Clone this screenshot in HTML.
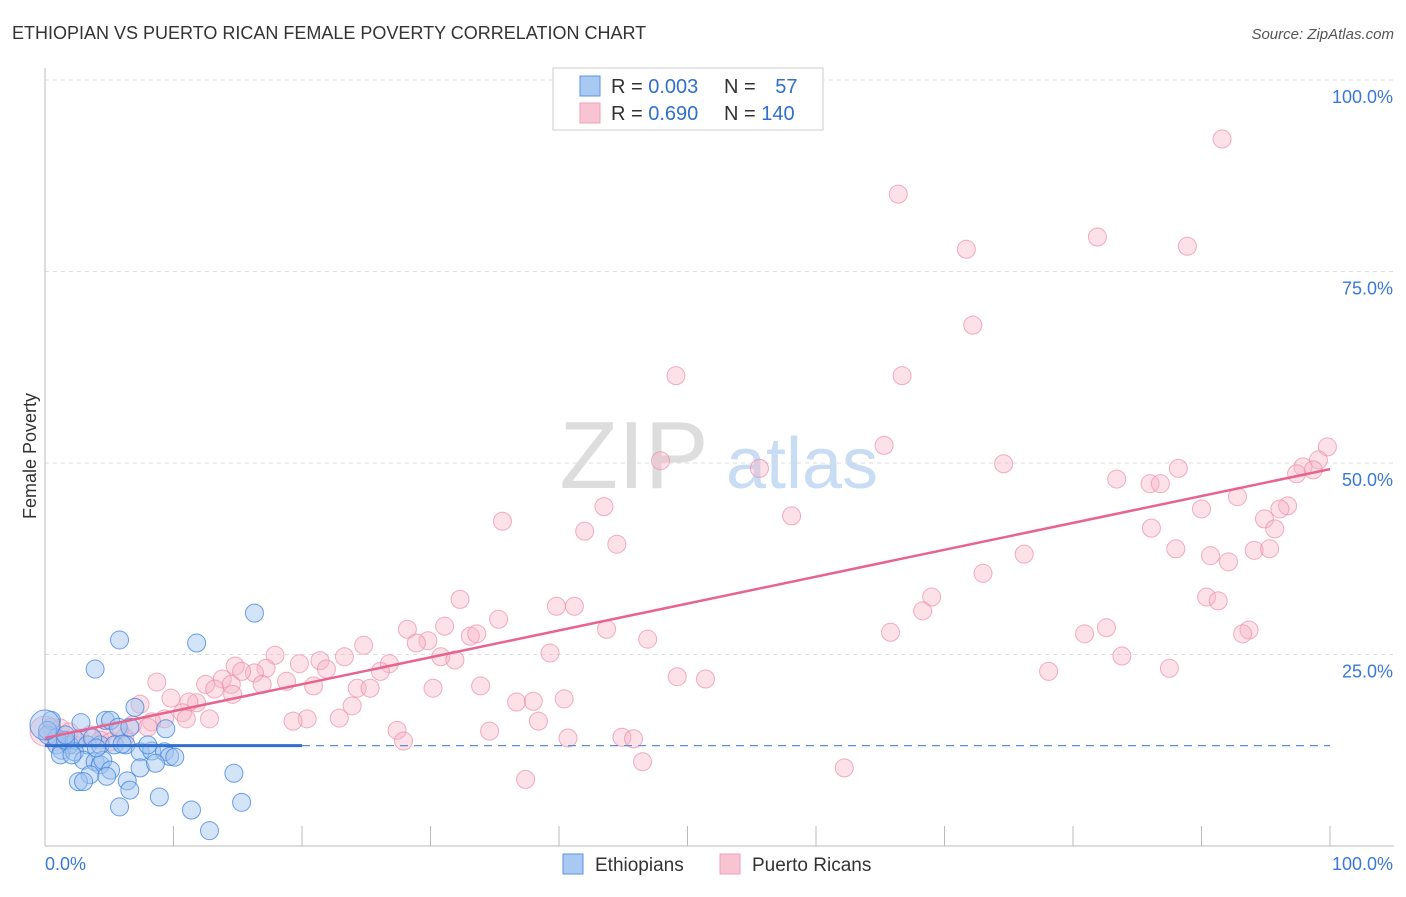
<!DOCTYPE html>
<html><head><meta charset="utf-8"><style>
body{margin:0;background:#fff;font-family:"Liberation Sans",sans-serif;}
svg text{font-family:"Liberation Sans",sans-serif;}
</style></head><body>
<svg id="chart" width="1406" height="892">
<text x="12" y="39" font-size="18" fill="#333">ETHIOPIAN VS PUERTO RICAN FEMALE POVERTY CORRELATION CHART</text>
<text x="1394" y="39" font-size="15" fill="#555" text-anchor="end" font-style="italic">Source: ZipAtlas.com</text>
<text x="36" y="456" font-size="18" fill="#333" text-anchor="middle" transform="rotate(-90 36 456)">Female Poverty</text>
<g>
<text x="634" y="488" font-size="96" fill="#ddd" text-anchor="middle" font-family="Liberation Serif">ZIP</text>
<text x="802" y="488" font-size="72" fill="#c8dcf4" text-anchor="middle">atlas</text>
</g>
<g id="grid"></g>
<g id="axes"></g>
<g id="marks"></g>
<g>
<rect x="553" y="68" width="270" height="62" fill="#fff" stroke="#ccc"/>
<rect x="580" y="76" width="20" height="20" fill="#a9c9f2" stroke="#5a95e0"/>
<rect x="580" y="103" width="20" height="20" fill="#f8c4d4" stroke="#f0a0b8"/>
<text x="611" y="93" font-size="20" fill="#333">R = <tspan fill="#2f6fd0">0.003</tspan></text>
<text x="724" y="93" font-size="20" fill="#333">N = <tspan fill="#2f6fd0" dx="14">57</tspan></text>
<text x="611" y="120" font-size="20" fill="#333">R = <tspan fill="#2f6fd0">0.690</tspan></text>
<text x="724" y="120" font-size="20" fill="#333">N = <tspan fill="#2f6fd0">140</tspan></text>
</g>
<g>
<rect x="563" y="854" width="20" height="20" fill="#a9c9f2" stroke="#5a95e0"/>
<text x="595" y="871" font-size="19" fill="#333">Ethiopians</text>
<rect x="720" y="854" width="20" height="20" fill="#f8c4d4" stroke="#f0a0b8"/>
<text x="752" y="871" font-size="19" fill="#333">Puerto Ricans</text>
</g>
</svg>
<script>
const yTicks=[25,50,75,100];
const yTickLabels=["25.0%","50.0%","75.0%","100.0%"];
const xTickLabels=["0.0%","100.0%"];
const blueX=[16.3,5.8,11.8,3.9,7.0,2.8,4.7,5.1,5.7,6.6,9.4,0.5,0.2,0.9,1.3,1.9,2.4,3.3,4.3,5.4,6.3,7.4,8.3,9.3,9.7,1.2,2.3,3.0,3.9,4.3,4.5,5.1,7.4,8.6,3.5,2.6,3.0,4.8,6.4,5.8,8.9,6.6,11.4,12.8,14.7,15.3,0.9,1.6,0.2,3.7,4.0,6.0,10.1,8.0,1.6,2.1,0.0];
const blueY=[30.4,26.9,26.5,23.1,18.1,16.1,16.4,16.4,15.5,15.5,15.3,16.4,14.5,13.2,12.5,13.2,13.8,13.2,13.2,13.2,13.2,12.3,12.4,12.3,11.7,11.9,12.3,11.2,11.0,10.6,11.2,9.9,10.2,10.8,9.3,8.4,8.4,9.1,8.5,5.1,6.4,7.3,4.7,2.0,9.5,5.7,14.1,13.8,15.1,14.1,12.8,13.3,11.6,13.2,14.5,11.9,15.8];
const pinkX=[91.6,66.4,81.9,71.7,88.9,72.2,49.1,66.7,65.3,99.8,47.9,55.6,74.6,99.1,97.9,98.7,97.4,83.4,88.2,86.0,86.8,92.8,43.5,35.6,58.1,90.0,96.7,96.1,94.9,95.7,86.1,42.0,44.5,88.0,94.1,95.3,90.7,92.1,76.2,73.0,32.3,69.0,39.8,41.2,90.4,91.3,35.3,68.3,31.1,28.2,43.7,33.1,33.6,29.8,28.9,24.8,65.8,80.9,82.6,93.7,93.2,46.9,39.3,17.9,23.3,21.4,30.8,31.9,14.8,19.8,17.2,26.8,26.1,21.9,16.3,15.3,13.8,12.5,8.7,18.8,20.9,16.9,14.5,13.2,14.6,24.3,25.3,30.2,33.9,78.1,83.8,87.5,49.2,51.4,11.8,9.8,11.2,10.7,7.4,23.9,36.7,38.0,40.4,20.4,19.3,22.9,12.8,11.0,9.3,38.4,8.3,6.8,5.8,4.6,27.4,34.6,40.7,27.9,44.9,45.8,46.5,37.4,62.2,1.2,1.9,0.5,2.7,3.5,4.3,8.0,6.2,1.5,5.1,2.3,0.8,0.0];
const pinkY=[92.3,85.1,79.5,77.9,78.3,68.0,61.4,61.4,52.3,52.1,50.3,49.3,49.9,50.4,49.5,49.1,48.6,47.9,49.3,47.3,47.3,45.6,44.3,42.4,43.1,44.0,44.4,44.0,42.7,41.4,41.5,41.1,39.4,38.8,38.6,38.8,37.9,37.1,38.1,35.6,32.2,32.5,31.3,31.3,32.5,32.0,29.6,30.7,28.7,28.3,28.3,27.4,27.7,26.8,26.5,26.2,27.9,27.7,28.5,28.2,27.7,27.0,25.2,24.9,24.7,24.2,24.7,24.3,23.5,23.8,23.2,23.8,22.8,23.1,22.6,22.8,21.8,21.1,21.4,21.5,20.9,21.1,21.1,20.5,19.8,20.6,20.6,20.6,20.9,22.8,24.8,23.2,22.1,21.8,18.7,19.3,18.8,17.4,18.5,18.3,18.8,18.9,19.2,16.6,16.3,16.7,16.6,16.6,16.6,16.3,16.2,15.8,15.1,14.8,15.1,15.0,14.1,13.7,14.2,14.0,11.0,8.7,10.2,15.4,14.9,15.5,14.1,14.5,13.8,15.5,14.2,13.8,13.6,13.2,13.6,15.0];
const pinkTrend=[14.1,49.2];
const blueTrend=[13.1,13.1];
const NS="http://www.w3.org/2000/svg";
const X=v=>45+v*12.85, Y=v=>846-v*7.66;
function mk(t,a,p){const e=document.createElementNS(NS,t);for(const k in a)e.setAttribute(k,a[k]);p.appendChild(e);return e;}
const grid=document.getElementById('grid'),axes=document.getElementById('axes'),marks=document.getElementById('marks');
yTicks.forEach((t,i)=>{
 const l=mk('line',{x1:45,x2:1394,y1:Y(t),y2:Y(t),stroke:'#ddd','stroke-dasharray':'4,4'},grid);
 
 
 const tx=mk('text',{x:1393,y:Y(t)+23,'font-size':18,fill:'#3a78d8','text-anchor':'end'},axes);tx.textContent=yTickLabels[i];
 
 
});
mk('line',{x1:45,x2:45,y1:68,y2:846,stroke:'#bbb'},axes);
mk('line',{x1:45,x2:1394,y1:846,y2:846,stroke:'#bbb'},axes);
for(let k=1;k<=10;k++){const t=mk('line',{x1:X(k*10),x2:X(k*10),y1:826,y2:846,stroke:'#bbb'},axes);
 
 }
const xl0=mk('text',{x:45,y:870,'font-size':18,fill:'#3a78d8'},axes);xl0.textContent=xTickLabels[0];


const xl1=mk('text',{x:1393,y:870,'font-size':18,fill:'#3a78d8','text-anchor':'end'},axes);xl1.textContent=xTickLabels[1];


pinkX.forEach((x,i)=>{const r=i===pinkX.length-1?15:9;
 const c=mk('circle',{cx:X(x),cy:Y(pinkY[i]),r:r,fill:'rgba(248,180,200,0.4)',stroke:'rgba(236,140,170,0.7)','stroke-width':1},marks);
 
 });
blueX.forEach((x,i)=>{const r=i===blueX.length-1?15:9;
 const c=mk('circle',{cx:X(x),cy:Y(blueY[i]),r:r,fill:'rgba(160,196,240,0.45)',stroke:'rgba(60,130,220,0.75)','stroke-width':1},marks);
 
 });
const pl=mk('line',{x1:X(0),y1:Y(pinkTrend[0]),x2:X(100),y2:Y(pinkTrend[1]),stroke:'#e8638f','stroke-width':2.5},marks);


const bl=mk('line',{x1:X(0),y1:Y(blueTrend[0]),x2:X(20),y2:Y(blueTrend[0]+(blueTrend[1]-blueTrend[0])*0.2),stroke:'#2f6fd0','stroke-width':3},marks);


const bd=mk('line',{x1:X(20),y1:Y(blueTrend[0]),x2:X(100),y2:Y(blueTrend[1]),stroke:'#5a8fd8','stroke-width':1.2,'stroke-dasharray':'8,6'},marks);


</script>
</body></html>
